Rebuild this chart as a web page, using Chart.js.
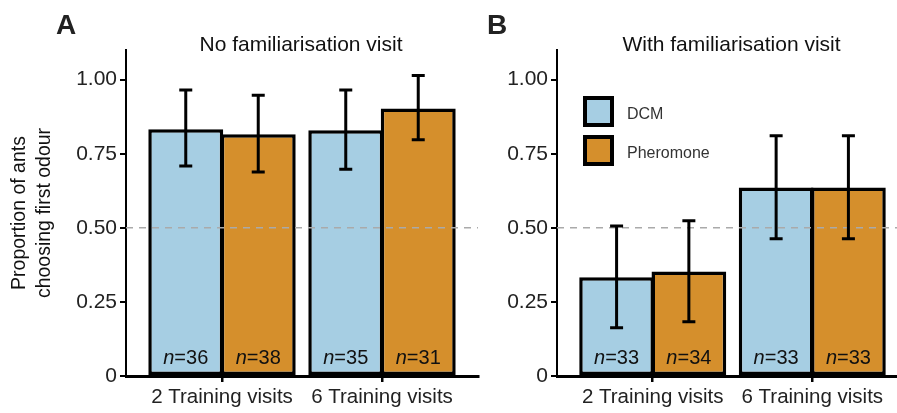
<!DOCTYPE html>
<html>
<head>
<meta charset="utf-8">
<script src="https://cdn.jsdelivr.net/npm/chart.js@4.4.1/dist/chart.umd.min.js"></script>
<style>
html, body { margin: 0; padding: 0; background: #fff; overflow: hidden; }
#wrap { position: relative; width: 897px; height: 413px; overflow: hidden; }
#panelA { position: absolute; left: 0; top: 0; }
#panelB { position: absolute; left: 480px; top: 0; }
</style>
</head>
<body>
<div id="wrap">
  <canvas id="panelA" width="480" height="413"></canvas>
  <canvas id="panelB" width="428" height="413"></canvas>
</div>
<script>
'use strict'

// categories and ticks
const categories = ['2 Training visits', '6 Training visits'];
const seriesNames = ['DCM', 'Pheromone'];
const yTicks = [0, 0.25, 0.5, 0.75, 1.0];
const yTickLabels = ['0', '0.25', '0.50', '0.75', '1.00'];
const chanceLevel = 0.5;

// A: no familiarisation visit
const noFamDCM = [0.833, 0.829];
const noFamDCMLow = [0.709, 0.698];
const noFamDCMHigh = [0.965, 0.965];
const noFamDCMN = [36, 35];
const noFamPher = [0.816, 0.903];
const noFamPherLow = [0.688, 0.797];
const noFamPherHigh = [0.947, 1.014];
const noFamPherN = [38, 31];

// B: with familiarisation visit
const withFamDCM = [0.333, 0.636];
const withFamDCMLow = [0.163, 0.463];
const withFamDCMHigh = [0.506, 0.811];
const withFamDCMN = [33, 33];
const withFamPher = [0.353, 0.636];
const withFamPherLow = [0.183, 0.463];
const withFamPherHigh = [0.524, 0.811];
const withFamPherN = [34, 33];

const colDCM = '#a6cee3';
const colPher = '#d58f2c';
const FONT = "'Liberation Sans', Arial, sans-serif";

function toPoints(vals) {
    return vals.map((v, i) => ({x: i + 1, y: v}));
}

function makeDataset(label, vals, low, high, n, color) {
    return {
        label: label,
        data: toPoints(vals),
        errLow: low,
        errHigh: high,
        nCounts: n,
        backgroundColor: color,
        borderColor: '#000',
        borderWidth: 3.5,
        borderSkipped: false,
        // slight overlap so the shared edge reads as one line
        barPercentage: 1.034,
        categoryPercentage: 0.906
    };
}

// chance line, error bars, n labels, titles, legend
const annotate = {
    id: 'annotate',
    afterDatasetsDraw(chart, args, opts) {
        const ctx = chart.ctx;
        const ys = chart.scales.y;
        const area = chart.chartArea;
        ctx.save();

        let yc = ys.getPixelForValue(chanceLevel);
        ctx.strokeStyle = '#aaaaaa';
        ctx.lineWidth = 1.6;
        ctx.setLineDash([7, 6]);
        ctx.beginPath();
        ctx.moveTo(area.left, yc);
        ctx.lineTo(area.right, yc);
        ctx.stroke();
        ctx.setLineDash([]);

        let y0 = ys.getPixelForValue(0);
        chart.data.datasets.forEach((ds, i) => {
            let meta = chart.getDatasetMeta(i);
            meta.data.forEach((bar, j) => {
                let lo = ys.getPixelForValue(ds.errLow[j]);
                let hi = ys.getPixelForValue(ds.errHigh[j]);
                ctx.strokeStyle = '#000';
                ctx.lineWidth = 3;
                ctx.beginPath();
                ctx.moveTo(bar.x, lo); ctx.lineTo(bar.x, hi);
                ctx.moveTo(bar.x - 6.5, lo); ctx.lineTo(bar.x + 6.5, lo);
                ctx.moveTo(bar.x - 6.5, hi); ctx.lineTo(bar.x + 6.5, hi);
                ctx.stroke();

                // n=.. label
                let rest = '=' + ds.nCounts[j];
                ctx.font = 'italic 20px ' + FONT;
                let w1 = ctx.measureText('n').width;
                ctx.font = '20px ' + FONT;
                let w2 = ctx.measureText(rest).width;
                let sx = bar.x - (w1 + w2) / 2;
                ctx.fillStyle = '#111';
                ctx.textBaseline = 'alphabetic';
                ctx.textAlign = 'left';
                ctx.font = 'italic 20px ' + FONT;
                ctx.fillText('n', sx, y0 - 12);
                ctx.font = '20px ' + FONT;
                ctx.fillText(rest, sx + w1, y0 - 12);
            });
        });
        ctx.restore();
    },
    afterDraw(chart, args, opts) {
        const ctx = chart.ctx;
        const area = chart.chartArea;
        ctx.save();
        ctx.fillStyle = '#111';
        ctx.textBaseline = 'alphabetic';
        ctx.textAlign = 'center';
        ctx.font = '21px ' + FONT;
        ctx.fillText(opts.title, (area.left + area.right) / 2 - 1, area.top + 0.5);

        ctx.textAlign = 'left';
        ctx.font = 'bold 28px ' + FONT;
        ctx.fillStyle = '#222';
        ctx.fillText(opts.letter, area.left - 70, 34);

        if (opts.legend) {
            chart.data.datasets.forEach((ds, i) => {
                let bx = area.left + 26;
                let by = area.top + 46 + i * 39;
                ctx.fillStyle = ds.backgroundColor;
                ctx.fillRect(bx, by, 31, 31);
                ctx.strokeStyle = '#000';
                ctx.lineWidth = 4;
                ctx.strokeRect(bx + 2, by + 2, 27, 27);
                ctx.fillStyle = '#333';
                ctx.font = '16px ' + FONT;
                ctx.fillText(ds.label, bx + 44, by + 23);
            });
        }
        ctx.restore();
    }
};

function buildChart(id, datasets, yWidth, padRight, opts, showTitle) {
    let ctx = document.getElementById(id).getContext('2d');
    return new Chart(ctx, {
        type: 'bar',
        data: { datasets: datasets },
        plugins: [annotate],
        options: {
            responsive: false,
            animation: false,
            events: [],
            layout: { padding: { top: 50, right: padRight, bottom: 0, left: 0 } },
            plugins: {
                legend: { display: false },
                tooltip: { enabled: false },
                annotate: opts
            },
            scales: {
                x: {
                    type: 'linear',
                    min: 0.4,
                    max: 2.6,
                    offset: false,
                    afterBuildTicks: (scale) => {
                        scale.ticks = categories.map((c, i) => ({value: i + 1}));
                    },
                    afterFit: (scale) => { scale.height = 37; },
                    ticks: {
                        autoSkip: false,
                        maxRotation: 0,
                        padding: 3,
                        color: '#222',
                        font: { family: FONT, size: 20.5 },
                        callback: (v) => categories[v - 1]
                    },
                    grid: { offset: false, drawOnChartArea: false, tickLength: 6, color: '#000', lineWidth: 2.5 },
                    border: { display: true, color: '#000', width: 3 }
                },
                y: {
                    min: 0,
                    max: 1.1,
                    afterBuildTicks: (scale) => {
                        scale.ticks = yTicks.map(v => ({value: v}));
                    },
                    afterFit: (scale) => { scale.width = yWidth; },
                    ticks: {
                        padding: 3,
                        color: '#222',
                        font: { family: FONT, size: 21 },
                        callback: (v) => yTickLabels[yTicks.indexOf(v)]
                    },
                    grid: { drawOnChartArea: false, tickLength: 6, color: '#000', lineWidth: 2 },
                    border: { display: true, color: '#000', width: 2 },
                    title: {
                        display: showTitle,
                        text: ['Proportion of ants', 'choosing first odour'],
                        color: '#111',
                        font: { family: FONT, size: 19.5, lineHeight: 1.28 },
                        padding: { top: 7.5, bottom: 0 }
                    }
                }
            }
        }
    });
}

buildChart('panelA', [
    makeDataset(seriesNames[0], noFamDCM, noFamDCMLow, noFamDCMHigh, noFamDCMN, colDCM),
    makeDataset(seriesNames[1], noFamPher, noFamPherLow, noFamPherHigh, noFamPherN, colPher)
], 126, 2, { title: 'No familiarisation visit', letter: 'A', legend: false }, true);

buildChart('panelB', [
    makeDataset(seriesNames[0], withFamDCM, withFamDCMLow, withFamDCMHigh, withFamDCMN, colDCM),
    makeDataset(seriesNames[1], withFamPher, withFamPherLow, withFamPherHigh, withFamPherN, colPher)
], 77, 0, { title: 'With familiarisation visit', letter: 'B', legend: true }, false);
</script>
</body>
</html>
